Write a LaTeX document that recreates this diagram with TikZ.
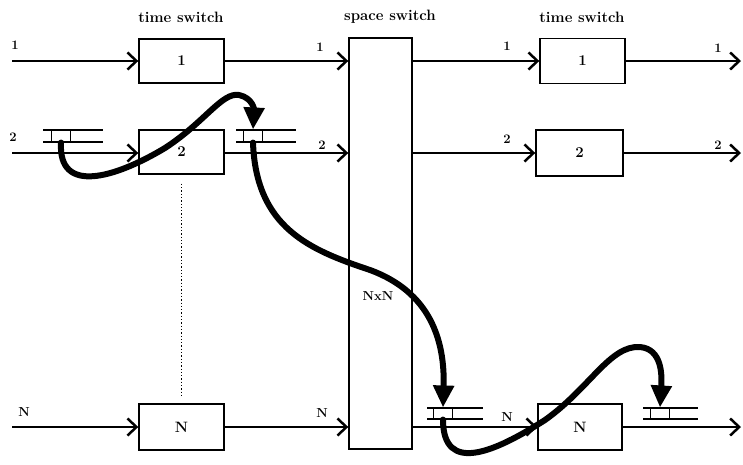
\documentclass[tikz,border=0pt]{standalone}
\usetikzlibrary{arrows.meta}
\begin{document}
\begin{tikzpicture}[x=1pt,y=-1pt,
  box/.style={draw,line width=1.4pt,rectangle,inner sep=0pt,font=\fontsize{15}{18}\selectfont\bfseries},
  lbl/.style={font=\fontsize{13}{16}\selectfont\bfseries,inner sep=0pt},
  head/.style={font=\fontsize{15}{18}\selectfont\bfseries,inner sep=0pt},
  flow/.style={line width=1.5pt,-{Straight Barb[length=9pt,width=17pt,line width=2.5pt]}},
  cell/.style={draw,line width=1.1pt,rectangle,inner sep=0pt,minimum width=19pt,minimum height=12pt,fill=white},
  qline/.style={line width=1.4pt},
  move/.style={line width=6pt,line cap=round,-{Triangle[length=22pt,width=20pt]}}]
\useasboundingbox (0,0) rectangle (743,464);

% headings
\node[head] (h1) at (181,17) {time switch};
\node[head] (h2) at (390,17) {space switch};
\node[head] (h3) at (582,17) {time switch};

% boxes
\node[box,minimum width=85pt,minimum height=44pt] (L1) at (181.5,61) {1};
\node[box,minimum width=85pt,minimum height=44pt] (L2) at (181.5,152) {2};
\node[box,minimum width=85pt,minimum height=46pt] (LN) at (181.5,427) {N};
\node[box,minimum width=63pt,minimum height=411pt] (S) at (380.5,243.5) {};
\node[lbl] (nxn) at (378,296) {NxN};
\node[box,minimum width=85pt,minimum height=45pt] (R1) at (582.5,61) {1};
\node[box,minimum width=87pt,minimum height=46pt] (R2) at (579.5,153) {2};
\node[box,minimum width=84pt,minimum height=46pt] (RN) at (580,427) {N};

% free ends
\coordinate (i1) at (12,61);
\coordinate (i2) at (12,153);
\coordinate (iN) at (12,427);
\coordinate (o1) at (741,61);
\coordinate (o2) at (741,153);
\coordinate (oN) at (741,427);

% input lines
\draw[flow] (i1) -- (L1.west);
\draw[flow] (i2) -- (L2.west |- i2);
\draw[flow] (iN) -- (LN.west);
% to space switch
\draw[flow] (L1.east) -- (S.west |- L1.east);
\draw[flow] (L2.east |- i2) -- (S.west |- i2);
\draw[flow] (LN.east) -- (S.west |- LN.east);
% from space switch
\draw[flow] (S.east |- R1.west) -- (R1.west);
\draw[flow] (S.east |- R2.west) -- (R2.west);
\draw[flow] (S.east |- RN.west) -- (RN.west);
% outputs
\draw[flow] (R1.east) -- (o1);
\draw[flow] (R2.east) -- (o2);
\draw[flow] (RN.east) -- (oN);

% dotted
\draw[dotted,line width=1.3pt] ([yshift=-9pt]L2.south) -- ([yshift=7pt]LN.north);

% line labels
\node[lbl] at (15,45) {1};
\node[lbl] at (13,137) {2};
\node[lbl] at (24,412) {N};
\node[lbl] at (320,47) {1};
\node[lbl] at (322,145) {2};
\node[lbl] at (322,413) {N};
\node[lbl] at (507,46) {1};
\node[lbl] at (507,139) {2};
\node[lbl] at (507,417) {N};
\node[lbl] at (718,48) {1};
\node[lbl] at (718,145) {2};

% queues
\draw[qline] (43,130) -- (103,130) (43,142) -- (103,142);
\node[cell] (q1) at (61,136) {};
\draw[qline] (236,130) -- (296,130) (236,142) -- (296,142);
\node[cell] (q2) at (253,136) {};
\draw[qline] (427,408) -- (483,408) (427,419) -- (483,419);
\node[cell,minimum height=11pt] (q3) at (443,413.5) {};
\draw[qline] (643,408) -- (698,408) (643,419) -- (698,419);
\node[cell,minimum height=11pt] (q4) at (660,413.5) {};

% moves
\draw[move] (q1.south) .. controls (58,195) and (115,178) .. (165,148)
  .. controls (205,122) and (222,92) .. (239,95)
  .. controls (253,98) and (254,110) .. (q2.north);
\draw[move] (q2.south) .. controls (256,228) and (310,250) .. (370,270)
  .. controls (430,292) and (445,340) .. (q3.north);
\draw[move] (q3.south) .. controls (443,475) and (495,452) .. (545,420)
  .. controls (590,388) and (610,345) .. (640,347)
  .. controls (662,349) and (662,375) .. (q4.north);
\end{tikzpicture}
\end{document}
